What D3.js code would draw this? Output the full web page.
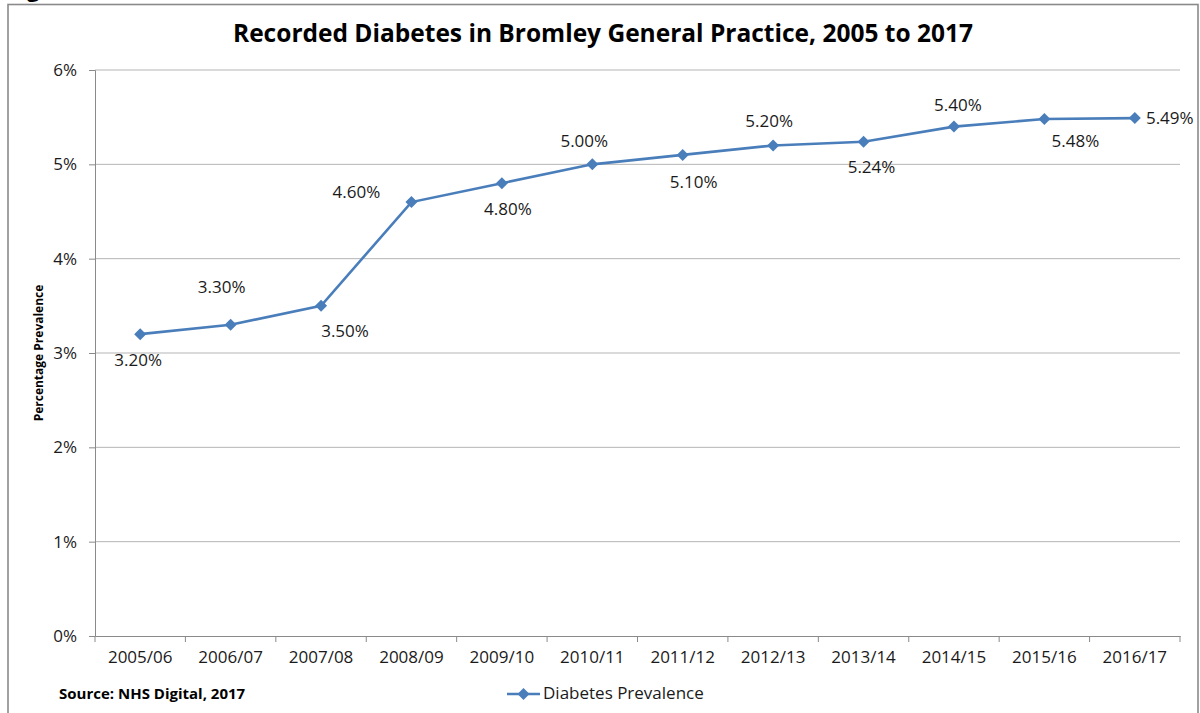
<!DOCTYPE html>
<html><head><meta charset="utf-8">
<script src="https://cdn.jsdelivr.net/npm/d3@7"></script>
<style>body{margin:0;background:#fff}svg{display:block}</style>
</head><body>
<script>
const categories = ["2005/06","2006/07","2007/08","2008/09","2009/10","2010/11","2011/12","2012/13","2013/14","2014/15","2015/16","2016/17"];
const prevalence = [3.20,3.30,3.50,4.60,4.80,5.00,5.10,5.20,5.24,5.40,5.48,5.49];
const valueLabels = ["3.20%","3.30%","3.50%","4.60%","4.80%","5.00%","5.10%","5.20%","5.24%","5.40%","5.48%","5.49%"];
const yTicks = [0,1,2,3,4,5,6];
const seriesName = "Diabetes Prevalence";
const titleText = "Recorded Diabetes in Bromley General Practice, 2005 to 2017";
const yTitle = "Percentage Prevalence";
const sourceText = "Source: NHS Digital, 2017";
// label offsets (layout, px) relative to each point: [dx, dy of label centre]
const labelOffsets = [[-2,26],[-9,-38],[24,25],[-55,-10],[6,26],[-8,-23],[11,27],[-4,-24],[8,25],[4,-22],[31,22],[35,0]];

const W = 1200, H = 713;
const svg = d3.select("body").append("svg").attr("width", W).attr("height", H);
const FONT = "'Open Sans', sans-serif";
const BLUE = "#4A7EBB";

// stray cropped heading glyph (cut off at the top edge, as in the reference)
svg.append("text").attr("x", 27).attr("y", -3).attr("font-family", FONT).attr("font-weight", "bold")
  .attr("font-size", 22).attr("fill", "#000").text("g");

// frame
svg.append("rect").attr("x", 8).attr("y", 4.5).attr("width", 1190).attr("height", 720)
  .attr("fill", "none").attr("stroke", "#8a8a8a").attr("stroke-width", 1.6);

const x = d3.scaleBand().domain(categories).range([95, 1180]);
const y = d3.scaleLinear().domain([0, 6]).range([636, 70]);

// gridlines
svg.append("g").selectAll("line").data(yTicks.filter(d => d > 0)).join("line")
  .attr("x1", 95).attr("x2", 1180).attr("y1", d => y(d)).attr("y2", d => y(d))
  .attr("stroke", "#b5b5b5").attr("stroke-width", 1);

// y axis
const yAxis = svg.append("g").attr("transform", "translate(95,0)")
  .call(d3.axisLeft(y).tickValues(yTicks).tickFormat(d => d + "%").tickSize(6).tickPadding(12));
yAxis.select(".domain").attr("stroke", "#8a8a8a");
yAxis.selectAll(".tick line").attr("stroke", "#8a8a8a");
yAxis.selectAll("text").attr("font-family", FONT).attr("font-size", 17).attr("fill", "#1a1a1a");

// x axis
const xAxis = svg.append("g").attr("transform", "translate(0,636)")
  .call(d3.axisBottom(x).tickSize(0).tickPadding(15));
xAxis.select(".domain").attr("stroke", "#8a8a8a");
xAxis.selectAll("text").attr("font-family", FONT).attr("font-size", 17).attr("fill", "#1a1a1a");
// boundary ticks
const bounds = categories.map(c => x(c)).concat([x.range()[1]]);
xAxis.selectAll(".bt").data(bounds).join("line").attr("class", "bt")
  .attr("x1", d => d).attr("x2", d => d).attr("y1", 0).attr("y2", 6).attr("stroke", "#8a8a8a");

const cx = (d, i) => x(categories[i]) + x.bandwidth() / 2;

// line
svg.append("path").datum(prevalence)
  .attr("d", d3.line().x((d, i) => cx(d, i)).y(d => y(d)))
  .attr("fill", "none").attr("stroke", BLUE).attr("stroke-width", 2.6);

// markers
svg.append("g").selectAll("path").data(prevalence).join("path")
  .attr("d", d3.symbol().type(d3.symbolSquare).size(72))
  .attr("transform", (d, i) => `translate(${cx(d, i)},${y(d)}) rotate(45)`)
  .attr("fill", BLUE);

// data labels
svg.append("g").selectAll("text").data(prevalence).join("text")
  .attr("x", (d, i) => cx(d, i) + labelOffsets[i][0])
  .attr("y", (d, i) => y(d) + labelOffsets[i][1] + 6)
  .attr("text-anchor", "middle").attr("font-family", FONT).attr("font-size", 17).attr("fill", "#1a1a1a")
  .text((d, i) => valueLabels[i]);

// title
svg.append("text").attr("x", 603).attr("y", 42).attr("text-anchor", "middle")
  .attr("font-family", FONT).attr("font-weight", "bold").attr("font-size", 24.5).attr("fill", "#000")
  .text(titleText);

// y title
svg.append("text").attr("transform", "translate(43,353) rotate(-90)").attr("text-anchor", "middle")
  .attr("font-family", FONT).attr("font-weight", "bold").attr("font-size", 12).attr("fill", "#000")
  .text(yTitle);

// source
svg.append("text").attr("x", 59).attr("y", 699).attr("font-family", FONT).attr("font-weight", "bold")
  .attr("font-size", 15).attr("fill", "#000").text(sourceText);

// legend
const lg = svg.append("g");
lg.append("line").attr("x1", 507).attr("x2", 540).attr("y1", 694).attr("y2", 694).attr("stroke", BLUE).attr("stroke-width", 2.6);
lg.append("path").attr("d", d3.symbol().type(d3.symbolSquare).size(72)).attr("transform", "translate(523.5,694) rotate(45)").attr("fill", BLUE);
lg.append("text").attr("x", 543).attr("y", 699).attr("font-family", FONT).attr("font-size", 17).attr("fill", "#1a1a1a").text(seriesName);
</script>
</body></html>
